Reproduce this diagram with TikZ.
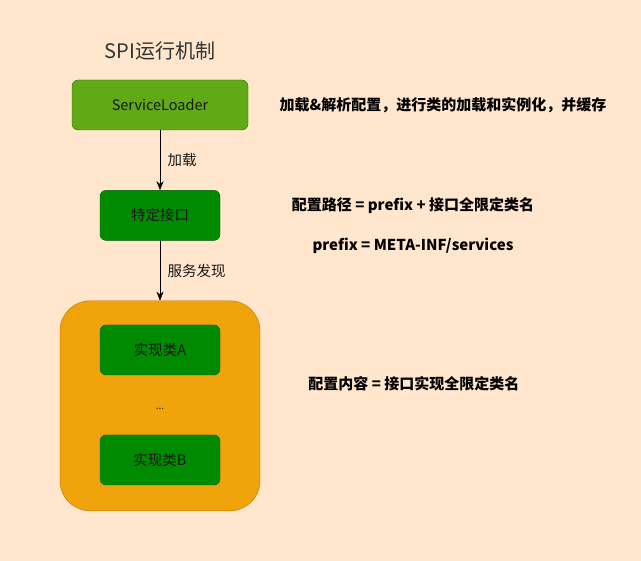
\documentclass[tikz,border=0pt]{standalone}
\usepackage{xcolor}
\usepackage{fontspec}
\setmainfont{Noto Sans CJK SC}
\usepackage{tikz}
\usetikzlibrary{arrows.meta,positioning}

\definecolor{bgpeach}{HTML}{FFE6CC}
\definecolor{loaderfill}{HTML}{60A917}
\definecolor{loaderline}{HTML}{2D7600}
\definecolor{implfill}{HTML}{008A00}
\definecolor{implline}{HTML}{005700}
\definecolor{boxfill}{HTML}{F0A30A}
\definecolor{boxline}{HTML}{BD7000}

\begin{document}
\begin{tikzpicture}[
  x=1pt, y=-1pt,
  node distance=60pt,
  every node/.style={font=\fontsize{14.5}{16}\selectfont, text=black!90},
  loader/.style={draw=loaderline, fill=loaderfill, rounded corners=6pt, minimum width=176pt, minimum height=50pt},
  impl/.style={draw=implline, fill=implfill, rounded corners=6pt, minimum width=120pt, minimum height=50pt},
  holder/.style={draw=boxline, fill=boxfill, rounded corners=30pt, minimum width=200pt, minimum height=210pt},
  note/.style={font=\fontsize{15}{17}\selectfont\bfseries, text=black},
  arrow/.style={-{Stealth[length=9pt,width=7pt]}, semithick}
]
\fill[bgpeach] (0,0) rectangle (641,561);
\useasboundingbox (0,0) rectangle (641,561);

\node[font=\fontsize{20}{22}\selectfont, text=black!80] (title) at (160,51) {SPI运行机制};
\node[loader] (loader) at (160,105) {ServiceLoader};
\node[impl, below=of loader] (iface) {特定接口};
\node[holder, below=of iface] (impls) {};
\node[impl] (implA) at (160,350) {实现类A};
\node[font=\fontsize{10}{12}\selectfont] (dots) at (160,409) {...};
\node[impl] (implB) at (160,460) {实现类B};

\draw[arrow] (loader) -- node[right=4pt] {加载} (iface);
\draw[arrow] (iface) -- node[right=4pt] {服务发现} (impls);

\node[note] (load) at (443,105) {加载\&解析配置，进行类的加载和实例化，并缓存};
\node[note] (path) at (413,206) {配置路径 = prefix + 接口全限定类名};
\node[note] (prefix) at (413,246) {prefix = META-INF/services};
\node[note] (content) at (414,384) {配置内容 = 接口实现全限定类名};
\end{tikzpicture}
\end{document}
